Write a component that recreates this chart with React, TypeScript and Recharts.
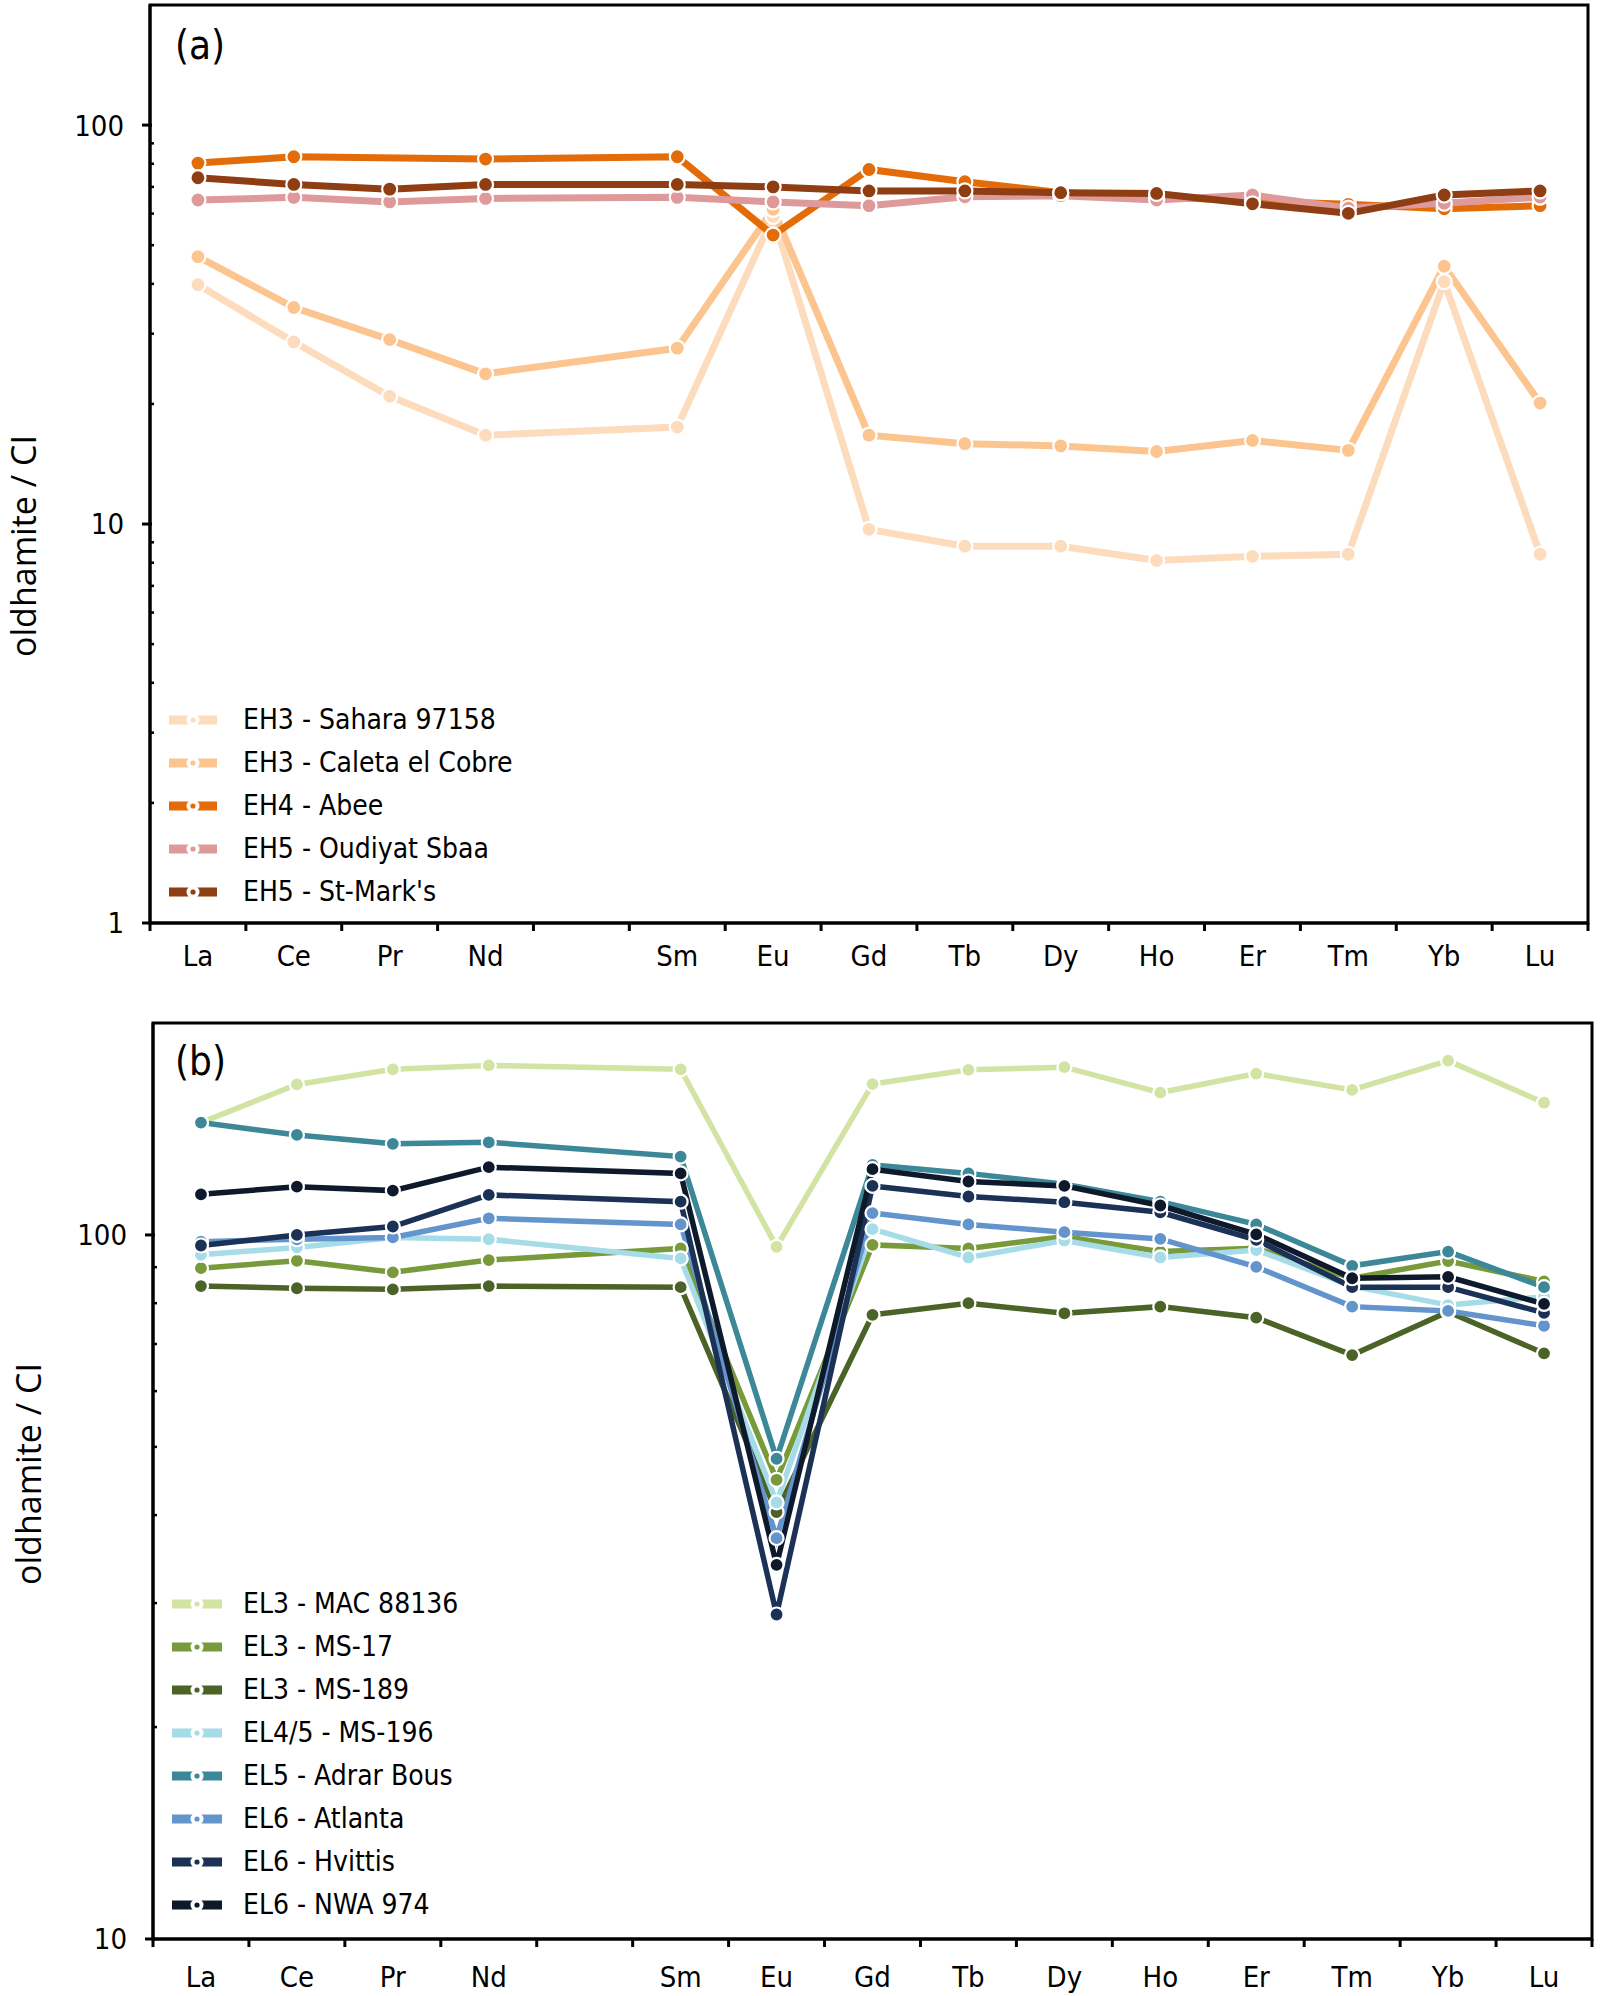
import React from 'react';
import { LineChart, Line, XAxis, YAxis, Legend, ReferenceArea } from 'recharts';

const FONT = "'Liberation Sans Narrow', 'DejaVu Sans Condensed', 'Open Sans', sans-serif";
const TITLE_FONT = "'Open Sans', 'Noto Sans', sans-serif";

// Pm was not measured, so every series has null there
const ELEMENTS = ['La', 'Ce', 'Pr', 'Nd', 'Pm', 'Sm', 'Eu', 'Gd', 'Tb', 'Dy', 'Ho', 'Er', 'Tm', 'Yb', 'Lu'];
const X_BOUNDS = [0, 1, 2, 3, 4, 5, 6, 7, 8, 9, 10, 11, 12, 13, 14, 15];

const Y_MAJOR_A = [1, 10, 100];
const Y_TICKS_A = [1, 2, 3, 4, 5, 6, 7, 8, 9, 10, 20, 30, 40, 50, 60, 70, 80, 90, 100];
const Y_MAJOR_B = [10, 100];
const Y_TICKS_B = [10, 20, 30, 40, 50, 60, 70, 80, 90, 100];

// panel (a) - EH chondrites
const SAHARA_97158 = [39.8, 28.6, 20.9, 16.7, null, 17.5, 59, 9.7, 8.8, 8.8, 8.1, 8.3, 8.4, 40.5, 8.4];
const CALETA_EL_COBRE = [46.8, 34.9, 29.0, 23.8, null, 27.6, 61.5, 16.7, 15.9, 15.7, 15.2, 16.2, 15.3, 44.3, 20.1];
const ABEE = [80.3, 83.3, null, 82.2, null, 83.3, 53.0, 77.4, 72.1, 67.7, 66.1, 64.5, 63.3, 61.7, 62.8];
const OUDIYAT_SBAA = [64.9, 65.9, 64.2, 65.5, null, 65.9, 64.2, 62.8, 66.1, 66.5, 64.9, 66.8, 61.9, 63.7, 66.0];
const ST_MARKS = [73.8, 71.0, 69.1, 71.0, null, 71.0, 70.0, 68.4, 68.4, 67.7, 67.4, 63.5, 60.1, 66.8, 68.4];

// panel (b) - EL chondrites
const MAC_88136 = [144.4, 163.6, 171.9, 174.1, null, 171.9, 96.2, 163.8, 171.6, 173.1, 159.3, 169.5, 160.7, 176.8, 154.1];
const MS_17 = [89.7, 91.9, 88.5, 92.1, null, 95.7, 44.9, 96.8, 95.7, 99.5, 94.7, 95.7, 86.8, 91.8, 85.9];
const MS_189 = [84.6, 84.0, 83.7, 84.6, null, 84.3, 40.4, 77.0, 80.0, 77.4, 79.1, 76.3, 67.5, 77.8, 67.9];
const MS_196 = [93.7, 96.0, 99.2, 98.6, null, 92.6, 41.7, 101.9, 92.9, 98.2, 92.9, 95.2, 84.6, 79.5, 81.7];
const ADRAR_BOUS = [144.4, 138.7, 134.7, 135.4, null, 129.2, 48.1, 125.7, 122.3, 118.0, 111.5, 103.5, 90.4, 94.7, 84.3];
const ATLANTA = [97.8, 98.6, 99.2, 105.6, null, 103.5, 37.1, 107.4, 103.5, 100.9, 98.7, 90.1, 79.1, 78.0, 74.3];
const HVITTIS = [96.6, 100.0, 102.8, 114.0, null, 111.5, 28.9, 117.4, 113.4, 111.3, 107.7, 98.4, 84.3, 84.3, 77.5];
const NWA_974 = [114.2, 117.1, 115.6, 124.8, null, 122.3, 34.0, 124.0, 119.1, 117.4, 110.1, 100.2, 86.8, 87.2, 79.8];

type Series = { key: string; name: string; color: string; values: (number | null)[] };

const SERIES_A: Series[] = [
  { key: 'sahara', name: 'EH3 - Sahara 97158', color: '#FDDCBE', values: SAHARA_97158 },
  { key: 'caleta', name: 'EH3 - Caleta el Cobre', color: '#FCC590', values: CALETA_EL_COBRE },
  { key: 'abee', name: 'EH4 - Abee', color: '#E36C09', values: ABEE },
  { key: 'oudiyat', name: 'EH5 - Oudiyat Sbaa', color: '#DE9A9B', values: OUDIYAT_SBAA },
  { key: 'stmarks', name: "EH5 - St-Mark's", color: '#8E3E12', values: ST_MARKS },
];

const SERIES_B: Series[] = [
  { key: 'mac', name: 'EL3 - MAC 88136', color: '#D3E3A3', values: MAC_88136 },
  { key: 'ms17', name: 'EL3 - MS-17', color: '#789A3A', values: MS_17 },
  { key: 'ms189', name: 'EL3 - MS-189', color: '#4B6326', values: MS_189 },
  { key: 'ms196', name: 'EL4/5 - MS-196', color: '#A6DCE8', values: MS_196 },
  { key: 'adrar', name: 'EL5 - Adrar Bous', color: '#3C8798', values: ADRAR_BOUS },
  { key: 'atlanta', name: 'EL6 - Atlanta', color: '#6494CC', values: ATLANTA },
  { key: 'hvittis', name: 'EL6 - Hvittis', color: '#1B3156', values: HVITTIS },
  { key: 'nwa', name: 'EL6 - NWA 974', color: '#0E1A2B', values: NWA_974 },
];

function buildRows(series: Series[]) {
  return ELEMENTS.map((el, i) => {
    const row: Record<string, any> = { x: i + 0.5, el };
    for (const s of series) row[s.key] = s.values[i];
    return row;
  });
}

const makeXTick = (slot: number, dy: number) => (props: any) => {
  const { x, y, payload } = props;
  const name = ELEMENTS[payload.value];
  if (!name || name === 'Pm') return <g />;
  return (
    <text x={x + slot / 2} y={y} dy={dy} textAnchor="middle" fontFamily={FONT} fontSize={29} fill="#000">
      {name}
    </text>
  );
};

const makeYTick = (major: number[]) => (props: any) => {
  const { x, y, payload } = props;
  const isMajor = major.includes(payload.value);
  return (
    <g>
      {isMajor ? (
        <line x1={x - 8} x2={x + 2} y1={y} y2={y} stroke="#000" strokeWidth={3} />
      ) : (
        <line x1={x} x2={x + 4} y1={y} y2={y} stroke="#000" strokeWidth={2.5} />
      )}
      {isMajor && (
        <text x={x - 26} y={y} dy="0.36em" textAnchor="end" fontFamily={FONT} fontSize={29} fill="#000">
          {payload.value}
        </text>
      )}
    </g>
  );
};

const makeYTitle = (dx: number, dy: number) => (props: any) => {
  const vb = props.viewBox;
  const cx = vb.x + dx;
  const cy = vb.y + vb.height / 2 + dy;
  return (
    <text x={cx} y={cy} transform={`rotate(-90 ${cx} ${cy})`} textAnchor="middle" dominantBaseline="central"
      fontFamily={TITLE_FONT} fontSize={34} fill="#000">
      oldhamite / CI
    </text>
  );
};

function LegendBox({ series, iconW, gap }: { series: Series[]; iconW: number; gap: number }) {
  return (
    <div style={{ fontFamily: FONT, fontSize: 28, color: '#000' }}>
      {series.map((s) => (
        <div key={s.key} style={{ display: 'flex', alignItems: 'center', height: 42.9 }}>
          <svg width={iconW} height={16} style={{ display: 'block' }}>
            <line x1={0} y1={8} x2={iconW} y2={8} stroke={s.color} strokeWidth={9} />
            <circle cx={iconW / 2} cy={8} r={6.5} fill="#fff" />
            <circle cx={iconW / 2} cy={8} r={2.6} fill={s.color} />
          </svg>
          <span style={{ marginLeft: gap, lineHeight: 1 }}>{s.name}</span>
        </div>
      ))}
    </div>
  );
}

const AXIS_LINE = { stroke: '#000', strokeWidth: 3 };

function Panel(props: {
  series: Series[]; height: number; top: number; left: number; right: number; xHeight: number;
  domain: [number, number]; ticks: number[]; major: number[]; tickDy: number; titleDx: number; titleDy: number;
  legendLeft: number; legendTop: number; iconW: number; gap: number; lineW: number; dotR: number;
}) {
  const plotW = 1600 - props.left - props.right;
  const rows = buildRows(props.series);
  return (
    <LineChart width={1600} height={props.height} data={rows}
      margin={{ top: props.top, right: props.right, bottom: 0, left: 0 }}>
      <XAxis dataKey="x" type="number" domain={[0, 15]} ticks={X_BOUNDS} interval={0} height={props.xHeight}
        tickSize={8} tickMargin={0} tickLine={{ stroke: '#000', strokeWidth: 3 }} axisLine={AXIS_LINE}
        tick={makeXTick(plotW / 15, props.tickDy)} />
      <YAxis type="number" scale="log" domain={props.domain} allowDataOverflow ticks={props.ticks} interval={0}
        width={props.left} tickSize={0} tickMargin={0} tickLine={false} axisLine={AXIS_LINE}
        tick={makeYTick(props.major)} label={{ value: 'oldhamite / CI', content: makeYTitle(props.titleDx, props.titleDy) }} />
      {/* plot frame */}
      <ReferenceArea x1={0} x2={15} y1={props.domain[0]} y2={props.domain[1]} ifOverflow="visible"
        fill="none" fillOpacity={0} stroke="#000" strokeWidth={3} />
      <Legend layout="vertical" align="center" verticalAlign="middle"
        content={() => <LegendBox series={props.series} iconW={props.iconW} gap={props.gap} />}
        wrapperStyle={{ left: props.legendLeft, top: props.legendTop, width: 400 }} />
      {props.series.map((s) => (
        <Line key={s.key} dataKey={s.key} name={s.name} type="linear" stroke={s.color} strokeWidth={props.lineW}
          connectNulls isAnimationActive={false}
          dot={{ r: props.dotR, fill: s.color, stroke: '#fff', strokeWidth: 2.2 }} activeDot={false} />
      ))}
    </LineChart>
  );
}

export default function App() {
  const labelStyle: React.CSSProperties = {
    position: 'absolute', left: 175, fontFamily: FONT, fontSize: 40, lineHeight: '40px', color: '#000',
  };
  return (
    <div style={{ position: 'absolute', left: 0, top: 0, width: 1600, height: 1996, background: '#fff' }}>
      <div style={{ position: 'relative', width: 1600, height: 993 }}>
        <Panel series={SERIES_A} height={993} top={5} left={150} right={12} xHeight={70}
          domain={[1, 200]} ticks={Y_TICKS_A} major={Y_MAJOR_A} tickDy={35} titleDx={23} titleDy={82}
          legendLeft={169} legendTop={699} iconW={48} gap={26} lineW={7} dotR={7.5} />
        <div style={{ ...labelStyle, top: 25 }}>(a)</div>
      </div>
      <div style={{ position: 'relative', width: 1600, height: 1003 }}>
        <Panel series={SERIES_B} height={1003} top={30} left={153} right={8} xHeight={57}
          domain={[10, 200]} ticks={Y_TICKS_B} major={Y_MAJOR_B} tickDy={40} titleDx={28} titleDy={-7}
          legendLeft={172} legendTop={590} iconW={50} gap={21} lineW={5.5} dotR={7} />
        <div style={{ ...labelStyle, top: 48 }}>(b)</div>
      </div>
    </div>
  );
}
